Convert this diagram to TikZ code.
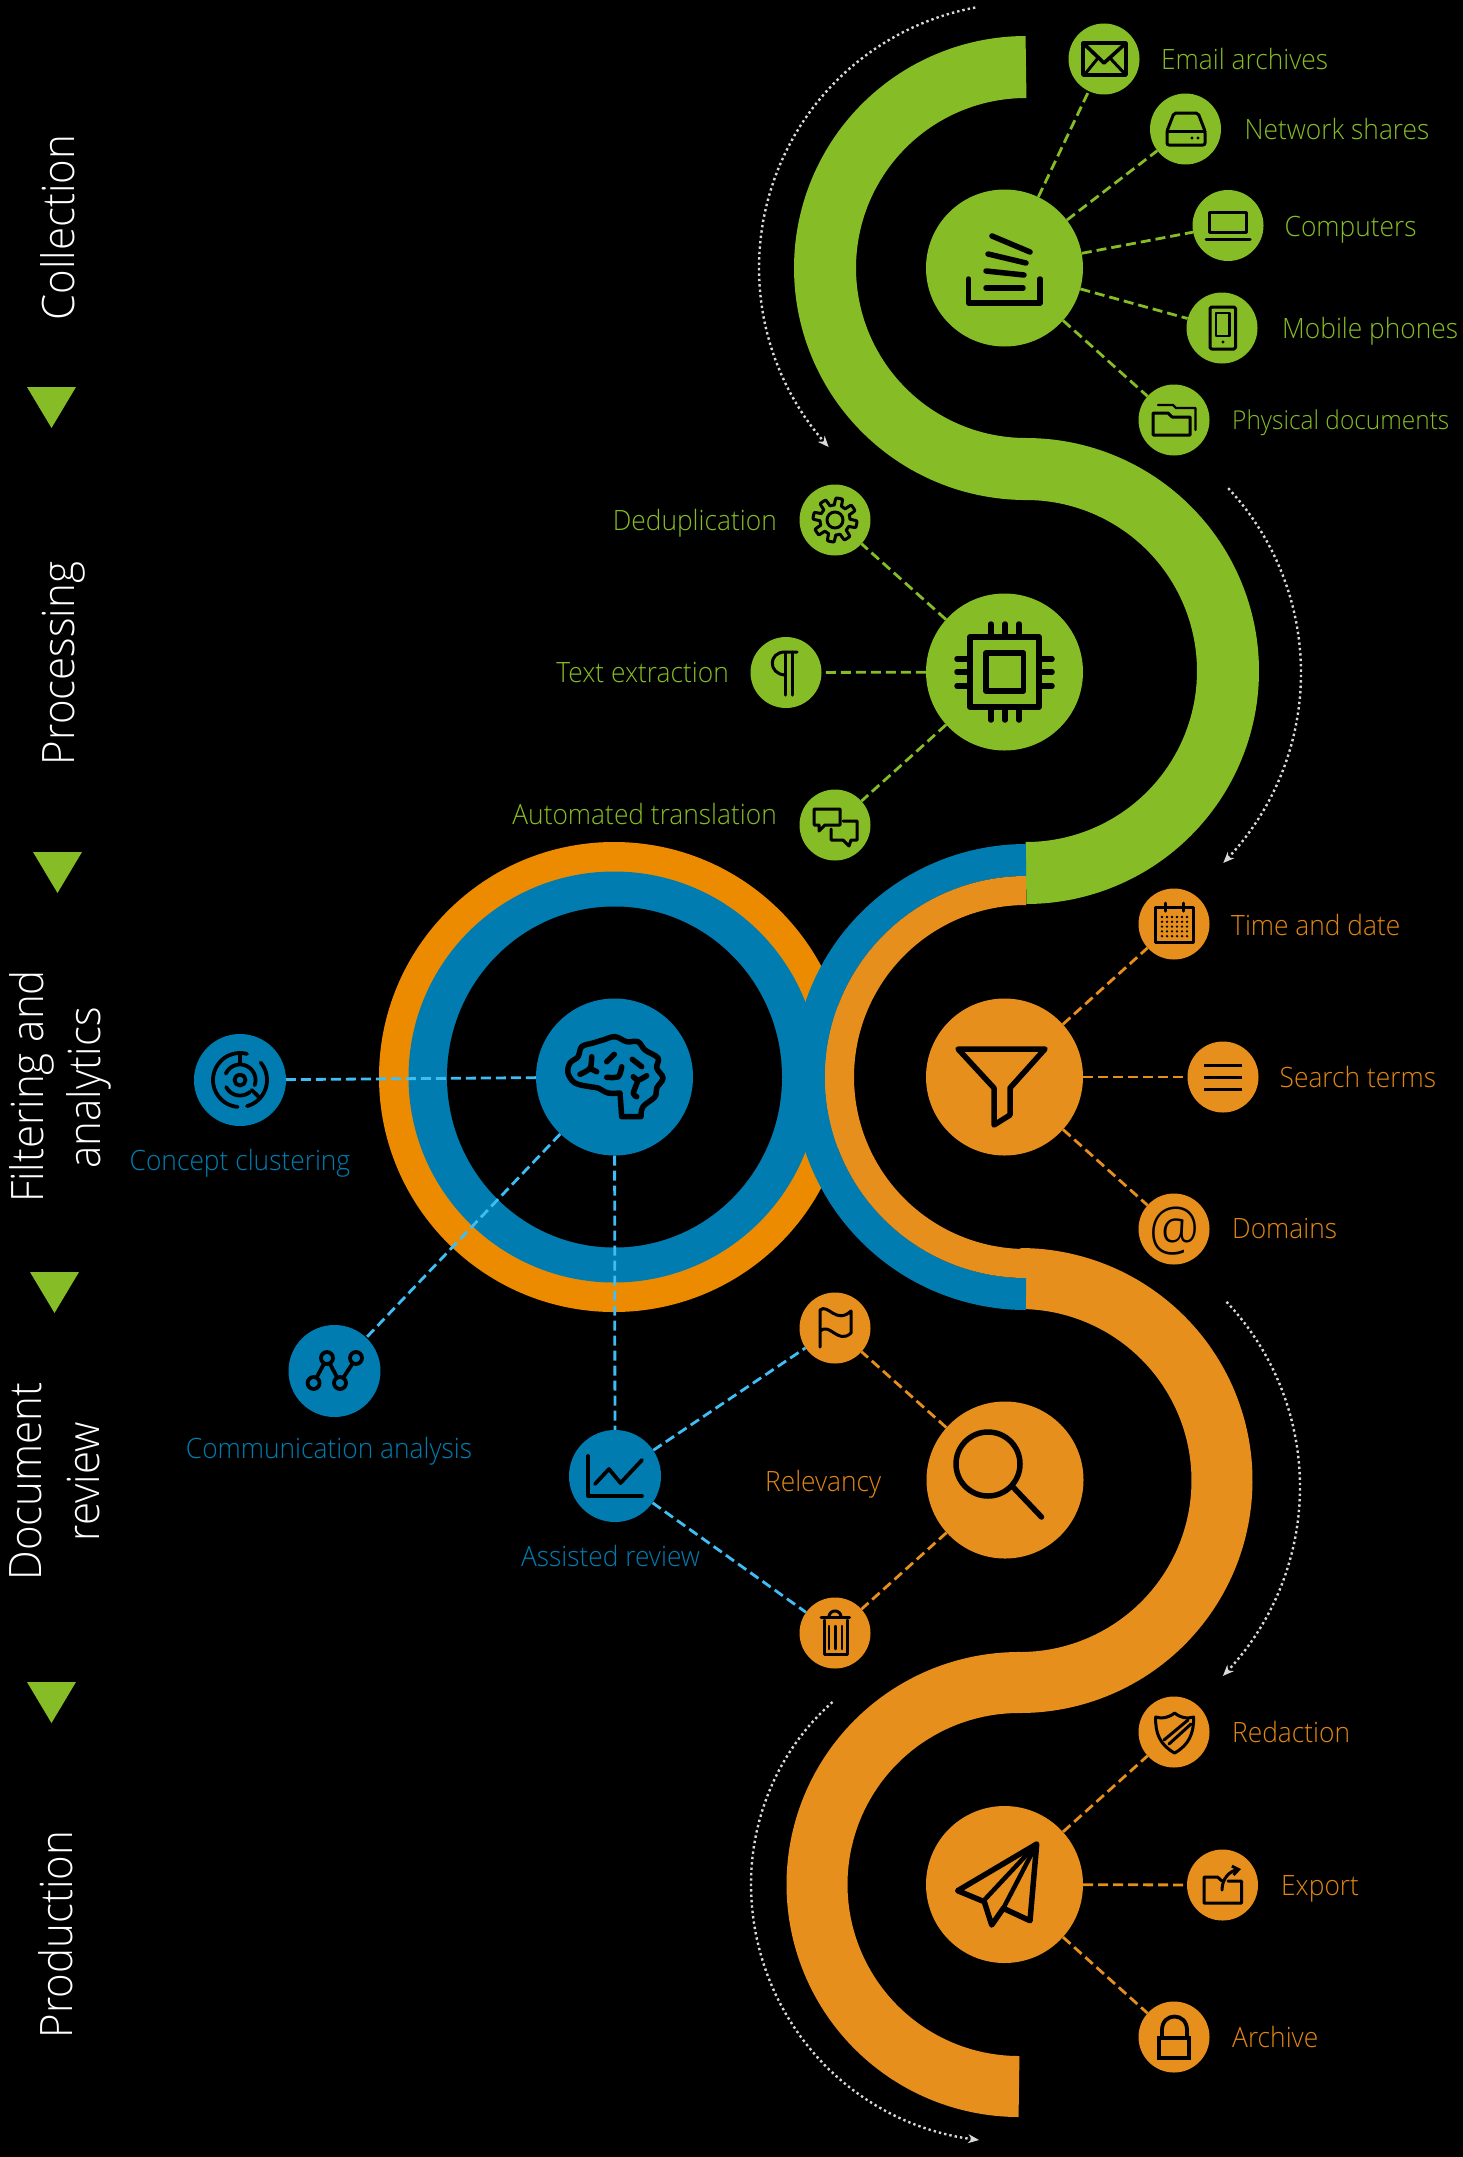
\documentclass[tikz,border=0pt]{standalone}
\usepackage{fontspec}
\setmainfont{Open Sans Light}[FakeStretch=0.94]
\usetikzlibrary{arrows.meta}
\definecolor{cgreen}{HTML}{86BC25}
\definecolor{cblue}{HTML}{007CB0}
\definecolor{corange}{HTML}{E68F1C}
\definecolor{cring}{HTML}{ED8B00}
\definecolor{clight}{HTML}{3EBEF5}
\definecolor{ctxto}{HTML}{E08614}
\definecolor{cdot}{HTML}{D9D9D9}
\newcommand{\bandarc}[6]{\draw[line width=#4pt,color=#6,line join=round] plot[domain=#5,samples=121] ({#1+#3*cos(\x)},{#2+#3*sin(\x)});}
\newcommand{\iarc}[6]{\draw[#1] plot[domain=#5:#6,samples=40] ({#2+#4*cos(\x)},{#3+#4*sin(\x)});}
\newcommand{\dotarc}[5]{\draw[dotarrow] plot[domain=#4:#5,samples=120] ({#1+#3*cos(\x)},{#2+#3*sin(\x)});}
\tikzset{
  bigc/.style={circle,inner sep=0pt,minimum size=157pt},
  midc/.style={circle,inner sep=0pt,minimum size=92pt},
  smallc/.style={circle,inner sep=0pt,minimum size=71pt},
  gline/.style={draw=cgreen,line width=2.8pt,dash pattern=on 10pt off 5pt},
  oline/.style={draw=corange,line width=2.8pt,dash pattern=on 10pt off 5pt},
  bline/.style={draw=clight,line width=2.8pt,dash pattern=on 10pt off 5pt},
  dotarrow/.style={draw=cdot,line width=2.4pt,dash pattern=on 2.4pt off 3pt,-{Stealth[length=11pt,width=9pt]}},
  lbl/.style={inner sep=0pt,yshift=-6.5pt,font=\fontsize{28}{32}\selectfont},
  stage/.style={inner sep=0pt,text=white,rotate=90,anchor=base,font=\fontsize{44.7}{50}\selectfont},
  icona/.style={draw=black,line width=3pt,line join=round,line cap=round},
  iconb/.style={draw=black,line width=5.5pt,line join=round,line cap=round},
  iconc/.style={draw=black,line width=3.8pt,line join=round,line cap=round},
  declare function={rq(\a)=270-(\a>180?8*((\a-180)/44)^2:10.6*((\a-180)/80.7)^2);},
}
\begin{document}
\begin{tikzpicture}[x=1pt,y=-1pt]
\useasboundingbox (0,0) rectangle (1463,2157);
\fill[black] (0,0) rectangle (1463,2157);
% rings
\fill[cring] (614,1077) circle (235);
\fill[cblue] (614,1077) circle (205.5);
\fill[black] (614.5,1077) ellipse (167.5 and 170.5);
% bands
\bandarc{1026}{268}{201}{62}{270:90}{cgreen}
\bandarc{1026}{671}{202}{62}{-91:90}{cgreen}
\bandarc{1020}{1480.5}{202}{61}{-90:91}{corange}
\bandarc{1019}{1884.5}{202}{61}{270:90}{corange}
\bandarc{1026}{1077}{217}{32}{270:90}{cblue}
\bandarc{1026}{1077}{186.5}{29}{270:90}{corange}
% dotted arrows
\dotarc{1024}{268}{265}{259.4}{137.5}
\dotarc{1030}{673}{271}{-43}{44.5}
\dotarc{1030}{1487}{270}{-43.3}{44.4}
\draw[dotarrow] plot[domain=224:99.3,samples=120] ({1021+rq(\x)*cos(\x)},{1884+rq(\x)*sin(\x)});
% stage labels and triangles
\node[stage] (s1) at (74,227.5) {Collection};
\node[stage] (s2) at (74,663.5) {Processing};
\node[stage] (s3) at (43,1086.5) {Filtering and};
\node[stage] (s3b) at (100,1088) {analytics};
\node[stage] (s4) at (41,1481.5) {Document};
\node[stage] (s4b) at (99,1481.5) {review};
\node[stage] (s5) at (72,1934.5) {Production};
\fill[cgreen] (27,387)--(76,387)--(51.5,428)--cycle;
\fill[cgreen] (33,852)--(82,852)--(57.5,893)--cycle;
\fill[cgreen] (30,1272)--(79,1272)--(54.5,1313)--cycle;
\fill[cgreen] (27,1682)--(76,1682)--(51.5,1723)--cycle;
% nodes
\node[bigc,fill=cgreen] (collect) at (1004.5,268) {};
\node[smallc,fill=cgreen] (email) at (1104,59) {};
\node[smallc,fill=cgreen] (net) at (1185.5,129) {};
\node[smallc,fill=cgreen] (comp) at (1228,225.5) {};
\node[smallc,fill=cgreen] (mobile) at (1222,328) {};
\node[smallc,fill=cgreen] (phys) at (1174,420) {};
\node[bigc,fill=cgreen] (proc) at (1004.5,672) {};
\node[smallc,fill=cgreen] (dedup) at (835,520) {};
\node[smallc,fill=cgreen] (textx) at (786,672.5) {};
\node[smallc,fill=cgreen] (trans) at (835,825) {};
\node[bigc,fill=corange] (filter) at (1004.5,1077) {};
\node[smallc,fill=corange] (time) at (1174,924) {};
\node[smallc,fill=corange] (terms) at (1223,1077) {};
\node[smallc,fill=corange] (domains) at (1174,1229) {};
\node[bigc,fill=cblue] (brain) at (614.5,1077) {};
\node[midc,fill=cblue] (concept) at (240,1080) {};
\node[midc,fill=cblue] (commu) at (334.5,1371) {};
\node[midc,fill=cblue] (assist) at (615,1476) {};
\node[bigc,fill=corange] (rel) at (1005,1480) {};
\node[smallc,fill=corange] (flag) at (835,1328) {};
\node[smallc,fill=corange] (trash) at (835,1633) {};
\node[bigc,fill=corange] (prod) at (1004.5,1884.5) {};
\node[smallc,fill=corange] (redact) at (1174,1732) {};
\node[smallc,fill=corange] (export) at (1222.5,1885) {};
\node[smallc,fill=corange] (arch) at (1174,2037) {};
% connectors
\foreach \t in {email,net,comp,mobile,phys} \draw[gline] (collect) -- (\t);
\foreach \t in {dedup,textx,trans} \draw[gline] (proc) -- (\t);
\foreach \t in {time,terms,domains} \draw[oline] (filter) -- (\t);
\foreach \t in {flag,trash} \draw[oline] (rel) -- (\t);
\foreach \t in {redact,export,arch} \draw[oline] (prod) -- (\t);
\foreach \t in {concept,commu,assist} \draw[bline] (brain) -- (\t);
\foreach \t in {flag,trash} \draw[bline] (assist) -- (\t);
% labels
\node[lbl,text=cgreen,anchor=mid west] (l1) at (1161,60) {Email archives};
\node[lbl,text=cgreen,anchor=mid west] (l2) at (1244.5,130) {Network shares};
\node[lbl,text=cgreen,anchor=mid west] (l3) at (1284.5,227) {Computers};
\node[lbl,text=cgreen,anchor=mid west] (l4) at (1282,329) {Mobile phones};
\node[lbl,text=cgreen,anchor=mid west,font=\fontsize{26}{32}\selectfont] (l5) at (1232,420) {Physical documents};
\node[lbl,text=cgreen,anchor=mid east] (l6) at (777,521) {Deduplication};
\node[lbl,text=cgreen,anchor=mid east] (l7) at (729,673) {Text extraction};
\node[lbl,text=cgreen,anchor=mid east] (l8) at (777,815) {Automated translation};
\node[lbl,text=ctxto,anchor=mid west] (l9) at (1231,926) {Time and date};
\node[lbl,text=ctxto,anchor=mid west] (l10) at (1279.5,1078) {Search terms};
\node[lbl,text=ctxto,anchor=mid west] (l11) at (1232,1229) {Domains};
\node[lbl,text=ctxto,anchor=mid west] (l12) at (765,1482) {Relevancy};
\node[lbl,text=cblue,anchor=mid] (l13) at (240,1161) {Concept clustering};
\node[lbl,text=cblue,anchor=mid] (l14) at (329,1449) {Communication analysis};
\node[lbl,text=cblue,anchor=mid] (l15) at (610.5,1557) {Assisted review};
\node[lbl,text=ctxto,anchor=mid west] (l16) at (1232,1733) {Redaction};
\node[lbl,text=ctxto,anchor=mid west] (l17) at (1281,1886) {Export};
\node[lbl,text=ctxto,anchor=mid west] (l18) at (1232,2038) {Archive};
% icon: inbox stack
\draw[iconb] (968.6,279)--(968.6,303)--(1040,303)--(1040,279);
\draw[iconb] (986,288)--(1023,288);
\draw[iconb] (986,271)--(1024,275);
\draw[iconb] (988,254)--(1026,263);
\draw[iconb] (992,236)--(1030,252);
% icon: envelope
\draw[icona,line width=3.6pt] (1083,43) rectangle (1126,75);
\draw[icona,line width=3.6pt] (1083,43)--(1104,63)--(1126,43);
\draw[icona] (1085,74)--(1098,58);
\draw[icona] (1125,74)--(1110,58);
% icon: drive
\draw[icona,rounded corners=2pt] (1174,113)--(1198,113)--(1205,131)--(1205,145)--(1167,145)--(1167,131)--cycle;
\draw[icona] (1167,131)--(1205,131);
\fill (1192,138) circle (1.6);
\fill (1198,138) circle (1.6);
% icon: laptop
\draw[icona] (1209,212) rectangle (1246,232);
\draw[icona] (1206,239)--(1250,239);
% icon: phone
\draw[icona,rounded corners=1.5pt] (1210,307) rectangle (1235.5,349);
\draw[icona,line width=2.4pt] (1216,313) rectangle (1229.5,336);
\fill (1223,342) circle (1.6);
% icon: folder
\draw[icona] (1153,413)--(1168,413)--(1172,417)--(1190,417)--(1190,435)--(1153,435)--cycle;
\draw[icona,line width=2.4pt] (1158,405)--(1173,405)--(1176,408)--(1195.5,408)--(1195.5,430);
% icon: gear
\draw[icona] plot[domain=0:360,samples=241] ({835+(18.5+3.5*max(-1,min(1,3*sin(8*\x))))*cos(\x)},{520+(18.5+3.5*max(-1,min(1,3*sin(8*\x))))*sin(\x)}) -- cycle;
\draw[icona] (835,520) circle (8);
% icon: pilcrow
\draw[icona] (797,652)--(785,652) .. controls (768,652) and (768,674) .. (785,675);
\draw[icona] (785,652)--(785,695);
\draw[icona] (792,652)--(792,695);
% icon: chip
\draw[iconb] (970,637) rectangle (1039,707);
\draw[iconb] (986,653) rectangle (1023.5,691);
\foreach \p in {991,1005,1019} {\draw[iconb] (\p,624)--(\p,637); \draw[iconb] (\p,707)--(\p,720);}
\foreach \p in {659,672,686} {\draw[iconb] (957,\p)--(970,\p); \draw[iconb] (1039,\p)--(1052,\p);}
% icon: speech
\draw[icona] (814,809)--(840,809)--(840,825)--(825,825)--(819,831)--(819,825)--(814,825)--cycle;
\draw[icona] (843,821)--(857,821)--(857,840)--(851,840)--(849,846)--(843,840)--(831,840)--(831,829);
% icon: funnel
\draw[iconb] (958,1049)--(1045,1049)--(1010,1088)--(1010,1115)--(994,1125)--(994,1088)--cycle;
% icon: calendar
\draw[icona] (1155.5,907) rectangle (1193,942);
\draw[icona] (1165,903)--(1165,911);
\draw[icona] (1183,903)--(1183,911);
\foreach \a in {0,1,2,3,4,5} \foreach \b in {0,1,2,3,4} \fill (1162+5*\a,917+4.8*\b) circle (1.3);
% icon: menu
\foreach \p in {1065,1077,1089} \draw[icona,line cap=butt] (1204,\p)--(1242,\p);
% icon: at sign
\node[inner sep=0pt,text=black,font=\fontsize{60}{64}\selectfont] (at) at (1174,1231) {@};
% icon: brain
\draw[iconb] plot[smooth,tension=0.6] coordinates {(641,1116.7)(643,1106.7)(655,1096.7)(656.7,1088)(663,1078)(656.7,1068)(658,1058)(645,1050)(638,1041.7)(626.7,1041.7)(615,1036.7)(603,1040)(593,1043)(581.7,1046.7)(578,1056.7)(570,1063)(568,1073)(575,1083)(590,1086.7)(598,1088)(608,1093)(620,1093)} -- (621.7,1116.7) -- cycle;
\draw[iconb] plot[smooth,tension=0.5] coordinates {(580,1074.3)(590,1068.3)(591.7,1056.7)};
\draw[iconb] (590,1068.3)--(596.7,1071.7);
\draw[iconb] (606.7,1061.7)--(614.3,1054.3);
\draw[iconb] plot[smooth,tension=0.5] coordinates {(606.7,1077.3)(618.3,1076.7)(621.7,1066.7)};
\draw[iconb] (632.3,1059.3)--(641.7,1066.7);
\draw[iconb] plot[smooth,tension=0.5] coordinates {(633.3,1076.7)(638.3,1080)(646.7,1075.7)};
\draw[iconb] plot[smooth,tension=0.5] coordinates {(638.3,1080)(633.3,1093.3)(636.7,1096.7)};
% icon: concept maze
\draw[iconc] (240,1080) circle (5.5);
\iarc{iconc}{240}{1080}{27}{285}{95}
\iarc{iconc}{240}{1080}{27}{-40}{75}
\iarc{iconc}{240}{1080}{15.5}{-156}{20}
\iarc{iconc}{240}{1080}{15.5}{153}{50}
\draw[iconc] (240,1055)--(240,1064);
\draw[iconc] (251.7,1090)--(260,1098);
% icon: communication
\draw[iconc] (313.6,1383)--(327,1358)--(340,1383)--(356,1358);
\foreach \p/\q in {313.6/1383,327/1358,340/1383,356/1358} \filldraw[iconc,fill=cblue] (\p,\q) circle (6);
% icon: chart
\draw[iconc] (588,1456)--(588,1496)--(642,1496);
\draw[iconc] (595,1484)--(609,1469)--(620.5,1483)--(642,1460);
% icon: flag
\draw[icona] (820,1347)--(820,1310) .. controls (828,1303) and (836,1325) .. (851,1311)--(851,1333) .. controls (838,1345) and (830,1322) .. (820,1331);
% icon: magnifier
\draw[iconb] (988,1464) circle (32);
\draw[iconb] (1013,1487)--(1041.5,1517);
% icon: trash
\draw[icona] (821,1617)--(849.5,1617);
\iarc{icona}{835}{1617}{6}{180}{360}
\draw[icona] (824,1620)--(824,1654)--(847,1654)--(847,1620);
\foreach \p in {829,835.5,842} \draw[icona,line width=2.4pt] (\p,1626)--(\p,1649);
% icon: shield
\draw[icona] (1174.6,1713) .. controls (1168,1718) and (1162,1719) .. (1155.7,1717) .. controls (1155,1733) and (1160,1745) .. (1174.6,1753) .. controls (1189,1745) and (1194,1733) .. (1193.6,1717) .. controls (1187,1719) and (1181,1718) .. (1174.6,1713) -- cycle;
\draw[icona] (1164,1740)--(1188,1720);
\draw[icona] (1169,1744)--(1191,1724);
% icon: export
\draw[icona] (1228,1881)--(1241.5,1881)--(1241.5,1903)--(1204,1903)--(1204,1877)--(1217.5,1877)--(1222,1881);
\draw[icona,-{Straight Barb[length=6pt,width=9pt]}] (1222,1890) .. controls (1222,1878) and (1230,1871) .. (1241,1869);
% icon: paper plane
\draw[iconb,line width=5.5pt] (1036.7,1844)--(957.7,1890.7)--(984.3,1901.7)--(991.7,1925)--(1003.3,1908.3)--(1030,1920.7)--cycle;
\draw[iconb,line width=4.5pt] (984.3,1900)--(1036.7,1844);
\draw[iconb,line width=4.5pt] (1003.3,1908.3)--(1036.7,1844);
% icon: lock
\draw[iconc,line join=miter,line cap=butt] (1158.6,2038) rectangle (1189,2058);
\draw[iconc] (1162,2038)--(1162,2030) .. controls (1162,2012) and (1187,2012) .. (1187,2030)--(1187,2038);
\end{tikzpicture}
\end{document}
